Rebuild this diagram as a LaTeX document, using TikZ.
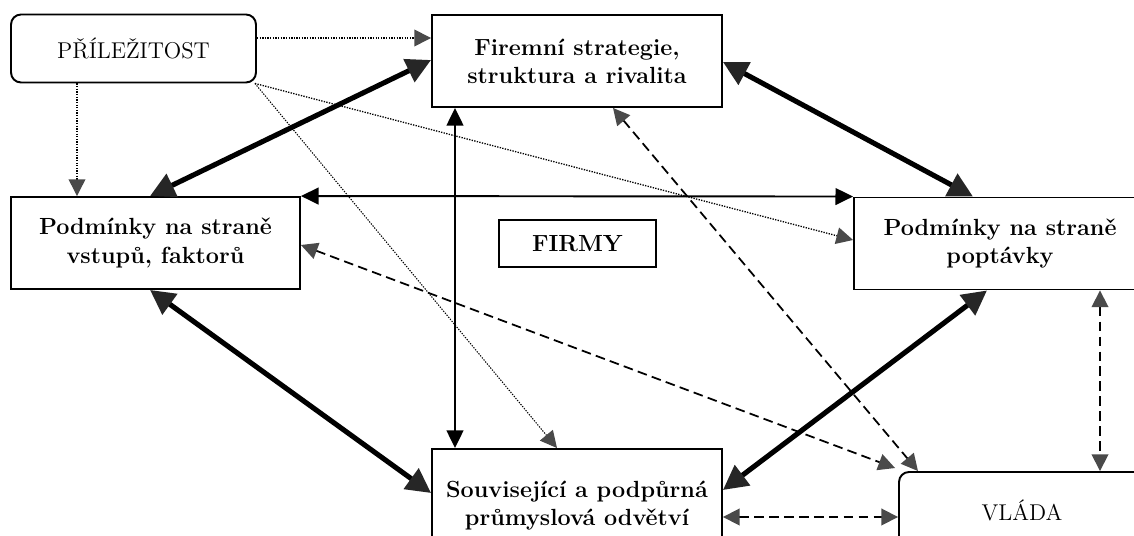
\documentclass[tikz,border=0pt]{standalone}
\usetikzlibrary{arrows.meta,calc}
\definecolor{tipdark}{HTML}{262626}
\definecolor{tipgray}{HTML}{4A4A4A}
\begin{document}
\begin{tikzpicture}[x=0.02cm,y=-0.02cm,
  box/.style={draw,line width=1.1pt,rectangle,align=center,inner sep=0pt,fill=white,font=\fontsize{13.3}{16}\selectfont\bfseries},
  rbox/.style={draw,line width=1.1pt,rectangle,rounded corners=0.2cm,align=center,inner sep=0pt,fill=white,font=\fontsize{13}{16}\selectfont},
  bigarrow/.style={line width=2.9pt,arrows={Triangle[length=14pt,width=14pt,color=tipdark]-Triangle[length=14pt,width=14pt,color=tipdark]}},
  thinarrow/.style={line width=1.1pt,arrows={Triangle[length=10pt,width=9.5pt,color=black]-Triangle[length=10pt,width=9.5pt,color=black]}},
  dasharrow/.style={line width=1pt,dash pattern=on 5.5pt off 3pt,arrows={Triangle[length=9.5pt,width=9.5pt,color=tipgray]-Triangle[length=9.5pt,width=9.5pt,color=tipgray]}},
  dotarrow/.style={line width=0.75pt,dash pattern=on 0.75pt off 0.75pt,arrows={-Triangle[length=9.5pt,width=9.5pt,color=tipgray]}}
]
\useasboundingbox (0,0) rectangle (1134,536);
\fill[white] (0,0) rectangle (1134,536);
\clip (0,0) rectangle (1134,536);

% nodes
\node[rbox,minimum width=4.9cm,minimum height=1.36cm] (pril) at (133.5,48.5) {PŘÍLEŽITOST};
\node[box,minimum width=5.8cm,minimum height=1.84cm] (firm) at (577,61) {Firemní strategie,\\struktura a rivalita};
\node[box,minimum width=5.78cm,minimum height=1.84cm] (vst) at (155.5,243) {Podmínky na straně\\vstupů, faktorů};
\node[box,minimum width=5.84cm,minimum height=1.84cm] (popt) at (1000,243.5) {Podmínky na straně\\poptávky};
\node[box,line width=0.8pt,minimum width=3.14cm,minimum height=0.94cm] (firmy) at (577.5,243.5) {FIRMY};
\node[box,minimum width=5.8cm,minimum height=2.28cm] (souv) at (577,506) {Související a podpůrná\\průmyslová odvětví};
\node[rbox,minimum width=4.92cm,minimum height=1.52cm] (vlada) at (1022,510) {VLÁDA};

% dotted arrows from PŘÍLEŽITOST
\draw[dotarrow] ($(pril.east)+(0,-10.5)$) -- ($(firm.west)+(0,-23)$);
\draw[dotarrow] ($(pril.south)+(-56.5,0)$) -- ($(vst.north)+(-78.5,0)$);
\draw[dotarrow] ($(pril.south east)+(-2,0)$) -- ($(popt.west)+(0,-3.5)$);
\draw[dotarrow,line width=0.6pt] ($(pril.south east)+(-2,0)$) -- ($(souv.north)+(-20,0)$);

% thin solid arrows
\draw[thinarrow] (vst.north east) -- (popt.north west);
\draw[thinarrow] ($(firm.south)+(-122,0)$) -- ($(souv.north)+(-122,0)$);

% thick arrows
\draw[bigarrow] ($(vst.north)+(-5.5,0)$) -- ($(firm.west)+(0,-1)$);
\draw[bigarrow] ($(firm.east)+(0,1)$) -- ($(popt.north)+(-27,0)$);
\draw[bigarrow] ($(vst.south)+(-5.5,0)$) -- ($(souv.west)+(0,-13)$);
\draw[bigarrow] ($(popt.south)+(-13,0)$) -- ($(souv.east)+(0,-16)$);

% dashed arrows
\draw[dasharrow] ($(firm.south)+(36,0)$) -- ($(vlada.north)+(-104,0)$);
\draw[dasharrow] ($(vst.east)+(0,2)$) -- ($(vlada.north west)+(-3,-3)$);
\draw[dasharrow] ($(popt.south)+(100,0)$) -- ($(vlada.north)+(78,0)$);
\draw[dasharrow] ($(souv.east)+(0,11)$) -- ($(vlada.west)+(0,7)$);
\end{tikzpicture}
\end{document}
